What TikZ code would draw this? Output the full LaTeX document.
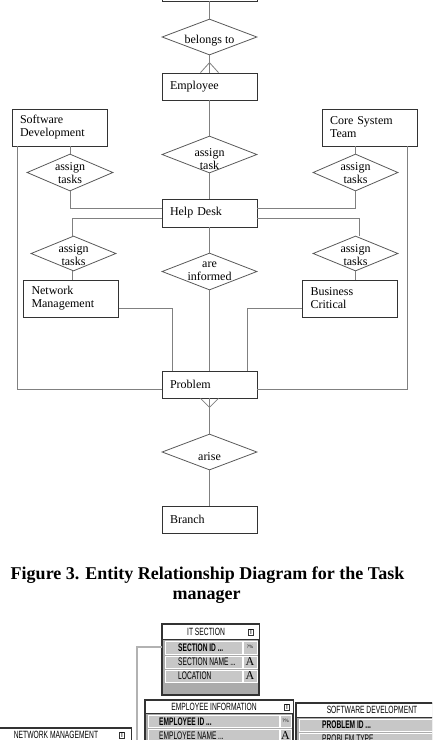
\documentclass[tikz,border=0pt]{standalone}
\usepackage{fontspec}
\usepackage{graphicx}
\setmainfont{Liberation Serif}[BoldFont={Liberation Serif Bold}]
\setsansfont{Liberation Sans}
\usetikzlibrary{shapes.geometric}
\newcommand{\rowtext}[1]{\scalebox{0.6}[1]{\sffamily\fontsize{11}{11}\selectfont #1}}
\newcommand{\headtext}[1]{\scalebox{0.64}[1]{\sffamily\fontsize{10.5}{10.5}\selectfont #1}}
\tikzset{
  entity/.style={draw=black!80, line width=0.8pt, minimum height=27pt,
    text width=79pt, inner xsep=8pt, align=left, font=\fontsize{12}{13}\selectfont},
  relation/.style={diamond, draw=black!65, line width=0.8pt,
    minimum width=95pt, minimum height=37pt, inner sep=0pt},
  reltext/.style={font=\fontsize{12}{13}\selectfont, align=center, inner sep=0pt},
  link/.style={draw=black!50, line width=0.8pt},
  caption/.style={font=\rmfamily\bfseries\fontsize{18}{20}\selectfont, inner sep=0pt},
  tblframe/.style={draw=black!80, line width=1.2pt, fill=black!33},
  tblhead/.style={draw=black!80, line width=0.8pt, fill=white},
  tblcell/.style={draw=white, line width=0.6pt, fill=black!22},
  tbltxt/.style={inner sep=0pt},
  tblicon/.style={draw=black!80, line width=0.5pt, inner sep=0.6pt,
    font=\sffamily\fontsize{7}{7}\selectfont},
  tbllink/.style={draw=black!30, line width=2pt},
}
\begin{document}
\begin{tikzpicture}[x=1pt,y=-1pt]
\useasboundingbox (0,0) rectangle (432,740);
\clip (0,0) rectangle (432,740);

% entities
\node[entity] (section) at (209.5,-12.5) {};
\node[entity] (employee) at (209.5,86.5) {Employee};
\node[entity, minimum height=37pt] (swdev) at (59.5,127.5) {Software\\Development};
\node[entity, minimum height=37pt] (core) at (369.5,127.5) {Core System\\Team};
\node[entity, minimum height=28pt] (helpdesk) at (209.5,213) {Help Desk};
\node[entity, minimum height=37pt] (netman) at (71,298.5) {Network\\Management};
\node[entity, minimum height=37pt] (buscrit) at (350,298.5) {Business\\Critical};
\node[entity] (problem) at (209.5,384.5) {Problem};
\node[entity] (branch) at (209.5,519.5) {Branch};

% relationships
\node[relation, minimum height=36pt, label={[reltext,yshift=-4pt]center:belongs to}] (belongs) at (209.5,37) {};
\node[relation, label={[reltext,yshift=-5pt]center:assign\\task}] (assign) at (209.5,154.5) {};
\node[relation, minimum width=86pt, label={[reltext,yshift=-1pt]center:assign\\tasks}] (assignsw) at (70,172.5) {};
\node[relation, minimum width=85pt, label={[reltext,yshift=-1pt]center:assign\\tasks}] (assigncore) at (355.5,172.5) {};
\node[relation, minimum width=85pt, minimum height=35pt, label={[reltext,yshift=-2pt]center:assign\\tasks}] (assignnet) at (73.5,253.5) {};
\node[relation, minimum width=85pt, minimum height=35pt, label={[reltext,yshift=-2pt]center:assign\\tasks}] (assignbus) at (355.5,253.5) {};
\node[relation, label={[reltext,yshift=0pt]center:are\\informed}] (informed) at (209.5,271.5) {};
\node[relation, minimum height=36pt, label={[reltext,yshift=-5pt]center:arise}] (arise) at (209.5,452) {};

% connectors
\draw[link] (section.south) -- (belongs.north);
\draw[link] (belongs.south) -- (employee.north);
\draw[link] ([xshift=-9pt]employee.north) -- ([yshift=10pt]employee.north) -- ([xshift=9pt]employee.north);
\draw[link] (employee.south) -- (assign.north);
\draw[link] (assign.south) -- (helpdesk.north);
\draw[link] (assignsw.north) -- (assignsw.north |- swdev.south);
\draw[link] (assignsw.south) |- ([yshift=5pt]helpdesk.west);
\draw[link] (assigncore.north) -- (assigncore.north |- core.south);
\draw[link] (assigncore.south) |- ([yshift=5pt]helpdesk.east);
\draw[link] ([yshift=-5pt]helpdesk.west) -| ([xshift=-1.5pt]assignnet.north);
\draw[link] ([xshift=-1.5pt]assignnet.south) -- ([xshift=-1.5pt]assignnet.south |- netman.north);
\draw[link] ([yshift=-5pt]helpdesk.east) -| ([xshift=3.5pt]assignbus.north);
\draw[link] (assignbus.south) -- (assignbus.south |- buscrit.north);
\draw[link] (helpdesk.south) -- (informed.north);
\draw[link] (informed.south) -- (problem.north);
\draw[link] ([yshift=-9.5pt]netman.east) -| ([xshift=-37.5pt]problem.north);
\draw[link] ([yshift=-9.5pt]buscrit.west) -| ([xshift=37.5pt]problem.north);
\draw[link] ([xshift=6pt]swdev.south west) |- ([yshift=-4.5pt]problem.west);
\draw[link] ([xshift=-10pt]core.south east) |- ([yshift=-4.5pt]problem.east);
\draw[link] ([xshift=-9pt]problem.south) -- ([yshift=-9pt]problem.south) -- ([xshift=9pt]problem.south);
\draw[link] (problem.south) -- (arise.north);
\draw[link] (arise.south) -- (branch.north);

% caption
\node[caption, anchor=base] (capa) at (207.5,579) {Figure 3. Entity Relationship Diagram for the Task};
\node[caption, anchor=base] (capb) at (206.5,599) {manager};

% table screenshot
\draw[tblframe] (162,624) rectangle (259,695);
\draw[tblhead] (162,624) rectangle (259,639);
\node[tbltxt] (sectitle) at (206,632) {\headtext{IT SECTION}};
\node[tblicon] (secicon) at (251,632) {T};
\draw[tblcell] (165,641) rectangle (242,654);
\draw[tblcell] (243,641) rectangle (257,654);
\draw[tblcell] (165,656) rectangle (242,668);
\draw[tblcell] (243,656) rectangle (257,668);
\draw[tblcell] (165,670) rectangle (242,682);
\draw[tblcell] (243,670) rectangle (257,682);
\node[tbltxt, anchor=west] (secid) at (178,648) {\rowtext{\bfseries SECTION ID ...}};
\node[tbltxt, anchor=west] (secname) at (178,662) {\rowtext{SECTION NAME ...}};
\node[tbltxt, anchor=west] (secloc) at (178,676) {\rowtext{LOCATION}};
\node[tbltxt] (secidt) at (250,647) {\fontsize{5}{5}\selectfont ?\%};
\node[tbltxt] (secnamet) at (250,662) {\fontsize{12}{12}\selectfont A};
\node[tbltxt] (secloct) at (250,676) {\fontsize{12}{12}\selectfont A};

\draw[tblframe] (145,700) rectangle (293,760);
\draw[tblhead] (145,700) rectangle (293,713);
\node[tbltxt] (emptitle) at (214,707) {\headtext{EMPLOYEE INFORMATION}};
\node[tblicon] (empicon) at (287,707) {T};
\draw[tblcell] (148,715) rectangle (279,727);
\draw[tblcell] (280,715) rectangle (291,727);
\draw[tblcell] (148,729) rectangle (279,741);
\draw[tblcell] (280,729) rectangle (291,741);
\node[tbltxt, anchor=west] (empid) at (159,721.5) {\rowtext{\bfseries EMPLOYEE ID ...}};
\node[tbltxt, anchor=west] (empname) at (159,735.5) {\rowtext{EMPLOYEE NAME ...}};
\node[tbltxt] (empidt) at (285.5,721) {\fontsize{5}{5}\selectfont ?\%};
\node[tbltxt] (empnamet) at (285.5,736) {\fontsize{12}{12}\selectfont A};

\draw[tblframe] (296,703) rectangle (445,760);
\draw[tblhead] (296,703) rectangle (445,717);
\node[tbltxt] (swtitle) at (372,710) {\headtext{SOFTWARE DEVELOPMENT}};
\draw[tblcell] (299,719) rectangle (445,731);
\draw[tblcell] (299,733) rectangle (445,745);
\node[tbltxt, anchor=west] (swid) at (322,725) {\rowtext{\bfseries PROBLEM ID ...}};
\node[tbltxt, anchor=west] (swtype) at (322,739) {\rowtext{PROBLEM TYPE}};

\draw[tblframe] (-5,728) rectangle (131,760);
\draw[tblhead] (-5,728) rectangle (131,741);
\node[tbltxt] (nettitle) at (56,735) {\headtext{NETWORK MANAGEMENT}};
\node[tblicon] (neticon) at (122,735) {T};

\coordinate (secport) at (162,647);
\coordinate (linkend) at (137,745);
\draw[tbllink] (secport) -| (linkend);
\end{tikzpicture}
\end{document}
